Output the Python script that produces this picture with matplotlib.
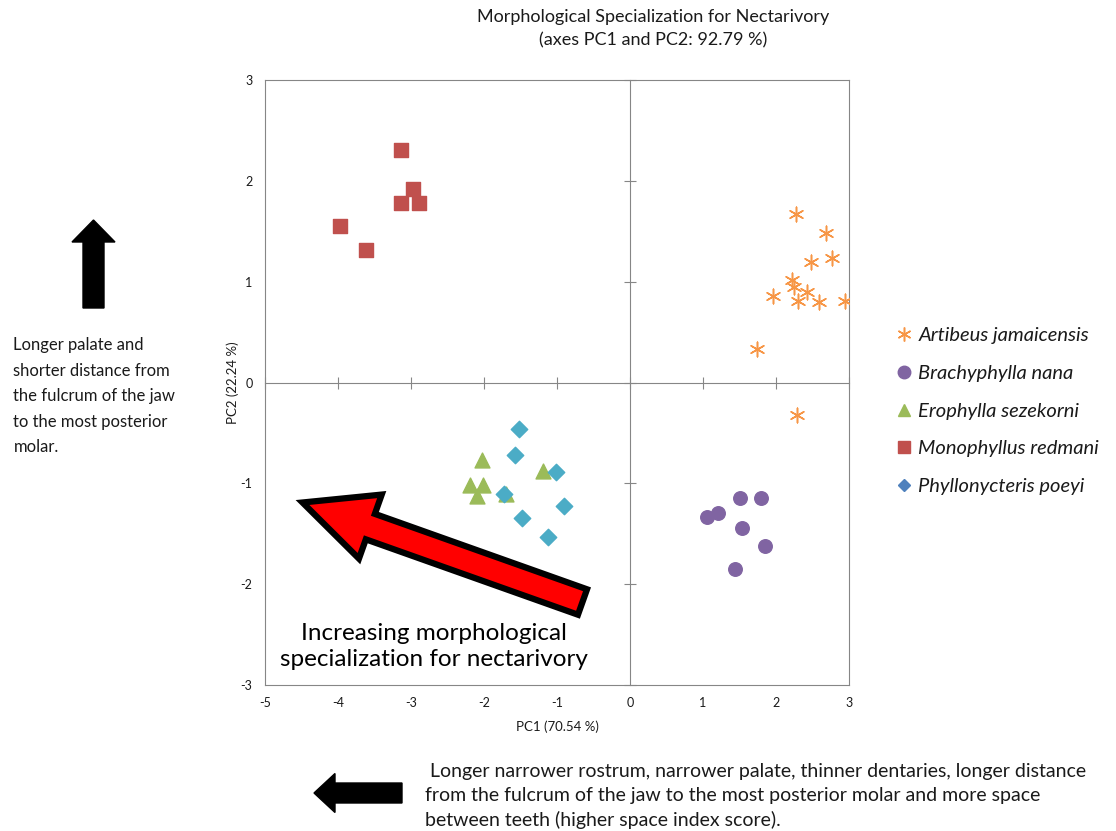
import matplotlib
matplotlib.use("Agg")
import matplotlib.pyplot as plt
from matplotlib.lines import Line2D
from matplotlib.patches import FancyArrow

plt.rcParams['font.family'] = ['Lato', 'DejaVu Sans']
plt.rcParams['axes.unicode_minus'] = False

# PCA scores
artibeus_x = [2.27, 2.68, 2.48, 2.76, 2.22, 2.24, 1.96, 2.43, 2.30, 2.59, 2.95, 1.74, 2.29]
artibeus_y = [1.67, 1.48, 1.20, 1.23, 1.02, 0.95, 0.86, 0.90, 0.81, 0.80, 0.81, 0.33, -0.32]

brachy_x = [1.51, 1.79, 1.06, 1.20, 1.53, 1.85, 1.44]
brachy_y = [-1.15, -1.15, -1.33, -1.29, -1.44, -1.62, -1.85]

erophylla_x = [-2.03, -1.19, -2.19, -2.02, -2.10, -1.70]
erophylla_y = [-0.77, -0.88, -1.02, -1.02, -1.13, -1.11]

monophyllus_x = [-3.14, -2.97, -3.14, -2.89, -3.97, -3.62]
monophyllus_y = [2.31, 1.92, 1.78, 1.78, 1.55, 1.31]

phyllo_x = [-1.52, -1.57, -1.01, -1.72, -0.90, -1.48, -1.13]
phyllo_y = [-0.46, -0.72, -0.89, -1.11, -1.22, -1.34, -1.53]

x_ticks = [-5, -4, -3, -2, -1, 0, 1, 2, 3]
y_ticks = [-3, -2, -1, 0, 1, 2, 3]

species = ["Artibeus jamaicensis", "Brachyphylla nana", "Erophylla sezekorni",
           "Monophyllus redmani", "Phyllonycteris poeyi"]

grey = "#868686"
star = (6, 2, 0)

fig = plt.figure(figsize=(11.16, 8.31), dpi=100)
pos = [0.2375, 0.1757, 0.5233, 0.728]
ax = fig.add_axes(pos)

ax.scatter(artibeus_x, artibeus_y, marker=star, s=110, color="#F79646", linewidths=1.1, zorder=3)
ax.scatter(brachy_x, brachy_y, marker="o", s=95, color="#8064A2", zorder=3)
ax.scatter(erophylla_x, erophylla_y, marker="^", s=115, color="#9BBB59", zorder=3)
ax.scatter(monophyllus_x, monophyllus_y, marker="s", s=110, color="#C0504D", zorder=3)
ax.scatter(phyllo_x, phyllo_y, marker="D", s=70, color="#4BACC6", zorder=4)

ax.set_xlim(-5, 3)
ax.set_ylim(-3, 3)
ax.set_xticks(x_ticks)
ax.set_yticks(y_ticks)
ax.tick_params(length=0, labelsize=9, labelcolor="#1a1a1a")
ax.tick_params(axis="x", pad=9)
ax.tick_params(axis="y", pad=9)
for s in ax.spines.values():
    s.set_color(grey)
ax.set_xlabel("PC1 (70.54 %)", fontsize=9.5, color="#1a1a1a", labelpad=8)
ax.set_ylabel("PC2 (22.24 %)", fontsize=9.5, color="#1a1a1a", labelpad=1)

# centre axis lines with crossing ticks
ax2 = fig.add_axes(pos, sharex=ax, sharey=ax)
ax2.patch.set_visible(False)
ax2.spines["left"].set_position(("data", 0))
ax2.spines["bottom"].set_position(("data", 0))
ax2.spines["top"].set_visible(False)
ax2.spines["right"].set_visible(False)
for k in ["left", "bottom"]:
    ax2.spines[k].set_color(grey)
ax2.tick_params(direction="inout", length=8, color=grey, labelleft=False, labelbottom=False)
ax2.set_zorder(0)
ax.set_zorder(1)
ax.patch.set_visible(False)

fig.text(0.585, 0.989, "Morphological Specialization for Nectarivory\n(axes PC1 and PC2: 92.79 %)",
         ha="center", va="top", fontsize=13, color="#1a1a1a", linespacing=1.55)

handles = [
    Line2D([], [], ls="", marker=star, ms=10, mec="#F79646", mew=1.1),
    Line2D([], [], ls="", marker="o", ms=9, color="#8064A2"),
    Line2D([], [], ls="", marker="^", ms=9, color="#9BBB59"),
    Line2D([], [], ls="", marker="s", ms=9, color="#C0504D"),
    Line2D([], [], ls="", marker="D", ms=6, color="#4F81BD"),
]
leg = fig.legend(handles, species, loc="upper left", bbox_to_anchor=(0.786, 0.628),
                 frameon=False, prop={"style": "italic", "size": 14.5},
                 labelspacing=1.02, handlelength=0.85, handletextpad=0.3)
for t in leg.get_texts():
    t.set_color("#1a1a1a")

# red arrow inside the plot
fig.add_artist(FancyArrow(5.825, 2.29, -2.80, 0.995, width=0.27, head_width=0.68,
                          head_length=0.72, length_includes_head=True,
                          facecolor="#FF0000", edgecolor="black", linewidth=4.5,
                          transform=fig.dpi_scale_trans, zorder=5))
fig.text(0.389, 0.222, "Increasing morphological\nspecialization for nectarivory",
         ha="center", va="center", fontsize=17.5, linespacing=1.3, zorder=6)

# black arrows
fig.add_artist(FancyArrow(0.935, 5.23, 0, 0.88, width=0.21, head_width=0.43,
                          head_length=0.22, length_includes_head=True,
                          color="black", transform=fig.dpi_scale_trans))
fig.add_artist(FancyArrow(4.02, 0.38, -0.88, 0, width=0.20, head_width=0.39,
                          head_length=0.21, length_includes_head=True,
                          color="black", transform=fig.dpi_scale_trans))

fig.text(0.012, 0.594, "Longer palate and\nshorter distance from\nthe fulcrum of the jaw\n"
         "to the most posterior\nmolar.", ha="left", va="top", fontsize=12,
         linespacing=1.73, color="#1a1a1a")
fig.text(0.381, 0.082, " Longer narrower rostrum, narrower palate, thinner dentaries, longer distance\n"
         "from the fulcrum of the jaw to the most posterior molar and more space\n"
         "between teeth (higher space index score).", ha="left", va="top",
         fontsize=14, linespacing=1.5, color="#1a1a1a")

fig.savefig("out.png", dpi=100)
